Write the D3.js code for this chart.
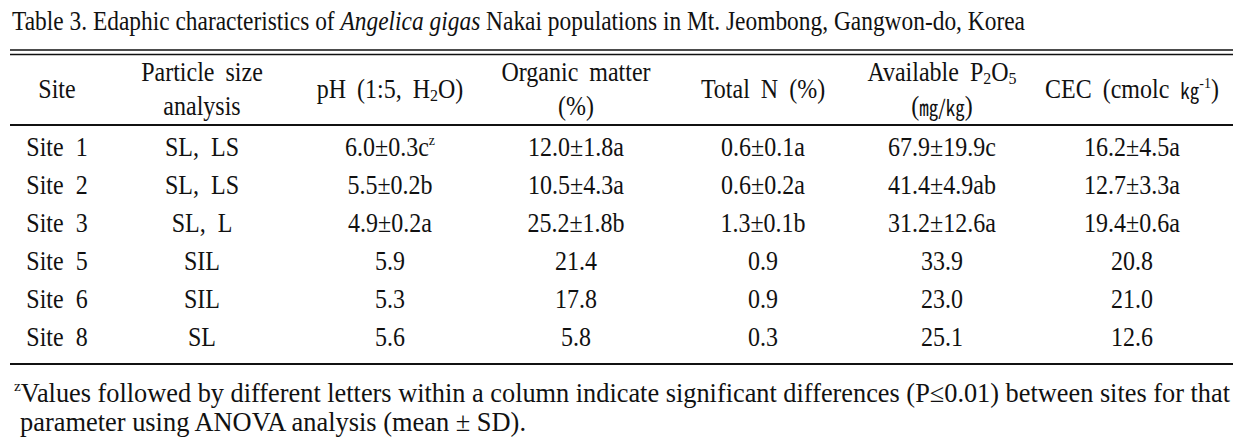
<!DOCTYPE html>
<html>
<head>
    <script src="https://cdnjs.cloudflare.com/ajax/libs/d3/7.8.5/d3.min.js"></script>
    <style>
        body { margin: 0; background: #fff; }
        svg { display: block; }
        .cell { font-family: "Liberation Serif", "Times New Roman", serif; font-size: 24px; fill: #111; }
        .rule { stroke: #111; }
    </style>
</head>
<body>
    <svg width="1246" height="447"></svg>
    <script>
        // Table data
        const sites = ["Site 1", "Site 2", "Site 3", "Site 5", "Site 6", "Site 8"];
        const particle = ["SL, LS", "SL, LS", "SL, L", "SIL", "SIL", "SL"];
        const ph = ["6.0±0.3c", "5.5±0.2b", "4.9±0.2a", "5.9", "5.3", "5.6"];
        const organic = ["12.0±1.8a", "10.5±4.3a", "25.2±1.8b", "21.4", "17.8", "5.8"];
        const totalN = ["0.6±0.1a", "0.6±0.2a", "1.3±0.1b", "0.9", "0.9", "0.3"];
        const p2o5 = ["67.9±19.9c", "41.4±4.9ab", "31.2±12.6a", "33.9", "23.0", "25.1"];
        const cec = ["16.2±4.5a", "12.7±3.3a", "19.4±0.6a", "20.8", "21.0", "12.6"];
        const columns = [sites, particle, ph, organic, totalN, p2o5, cec];

        // Layout
        const svg = d3.select("svg");
        const colX = [57, 202, 390, 576, 763, 942, 1132];
        const x = d3.scaleOrdinal().domain(d3.range(columns.length)).range(colX);
        const y = d3.scalePoint().domain(d3.range(sites.length)).range([148, 338]);
        const tall = (tx, ty) => `translate(${tx},${ty}) scale(1,1.1)`;

        // Title
        const title = svg.append("text").attr("class", "cell")
            .attr("transform", tall(12, 30))
            .attr("textLength", 1013).attr("lengthAdjust", "spacingAndGlyphs");
        title.append("tspan").text("Table 3. Edaphic characteristics of ");
        title.append("tspan").attr("font-style", "italic").text("Angelica gigas");
        title.append("tspan").text(" Nakai populations in Mt. Jeombong, Gangwon-do, Korea");

        // Rules
        const rules = [
            { y: 50, w: 1.6 }, { y: 54.5, w: 1.6 }, { y: 125, w: 2 }, { y: 364, w: 2 }
        ];
        svg.append("g").selectAll("line")
            .data(rules)
            .join("line")
            .attr("class", "rule")
            .attr("x1", 10).attr("x2", 1233)
            .attr("y1", d => d.y).attr("y2", d => d.y)
            .attr("stroke-width", d => d.w);

        // Header
        const head = svg.append("g").attr("class", "cell").attr("text-anchor", "middle");
        const hy1 = 81, hy2 = 115, hmid = 98;
        const htext = (c, yy) => head.append("text").attr("transform", tall(x(c), yy)).attr("word-spacing", 5);
        htext(0, hmid).text("Site");
        htext(1, hy1).text("Particle size");
        htext(1, hy2).text("analysis");
        const phH = htext(2, hmid);
        phH.append("tspan").text("pH (1:5, H");
        phH.append("tspan").attr("font-size", 16).attr("dy", 3).text("2");
        phH.append("tspan").attr("dy", -3).text("O)");
        htext(3, hy1).text("Organic matter");
        htext(3, hy2).text("(%)");
        htext(4, hmid).text("Total N (%)");
        const pH2 = htext(5, hy1);
        pH2.append("tspan").text("Available P");
        pH2.append("tspan").attr("font-size", 16).attr("dy", 3).text("2");
        pH2.append("tspan").attr("dy", -3).text("O");
        pH2.append("tspan").attr("font-size", 16).attr("dy", 3).text("5");
        const unit = htext(5, hy2);
        unit.append("tspan").text("(");
        unit.append("tspan").attr("font-family", "Noto Sans CJK KR").attr("font-size", 19).text("㎎/㎏");
        unit.append("tspan").text(")");
        const cecH = htext(6, hmid);
        cecH.append("tspan").text("CEC (cmolc ");
        cecH.append("tspan").attr("font-family", "Noto Sans CJK KR").attr("font-size", 19).text("㎏");
        cecH.append("tspan").attr("font-size", 14).attr("dy", -9).text("-1");
        cecH.append("tspan").attr("dy", 9).text(")");

        // Body cells
        const cells = [];
        columns.forEach((col, c) => col.forEach((v, r) => cells.push({ c, r, v })));
        const body = svg.append("g").attr("class", "cell").attr("text-anchor", "middle");
        const cell = body.selectAll("text")
            .data(cells)
            .join("text")
            .attr("transform", d => tall(x(d.c), y(d.r) + 8))
            .attr("word-spacing", d => d.c < 2 ? 6 : 0);
        cell.append("tspan").text(d => d.v);
        // superscript z on first pH value
        cell.filter(d => d.c === 2 && d.r === 0)
            .append("tspan").attr("font-size", 14).attr("dy", -10).text("z");

        // Footnote
        const fn = svg.append("text").attr("class", "cell")
            .attr("transform", tall(14, 402))
            .attr("textLength", 1216).attr("lengthAdjust", "spacingAndGlyphs");
        fn.append("tspan").attr("font-size", 14).attr("dy", -10).text("z");
        fn.append("tspan").attr("dy", 10).text("Values followed by different letters within a column indicate significant differences (P≤0.01) between sites for that");
        svg.append("text").attr("class", "cell")
            .attr("transform", tall(20, 431))
            .attr("textLength", 506).attr("lengthAdjust", "spacingAndGlyphs")
            .text("parameter using ANOVA analysis (mean ± SD).");
    </script>
</body>
</html>
